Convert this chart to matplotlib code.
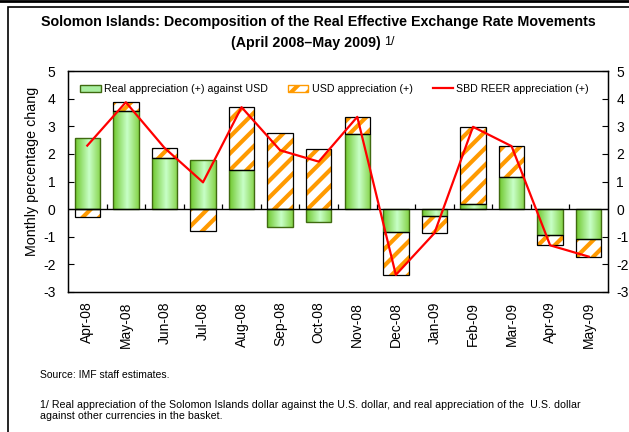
import matplotlib

matplotlib.use("Agg")
import matplotlib.pyplot as plt
import numpy as np
from matplotlib.colors import LinearSegmentedColormap
from matplotlib.lines import Line2D
from matplotlib.patches import Patch, Rectangle

MONTHS = ["Apr-08", "May-08", "Jun-08", "Jul-08", "Aug-08", "Sep-08", "Oct-08",
          "Nov-08", "Dec-08", "Jan-09", "Feb-09", "Mar-09", "Apr-09", "May-09"]
REAL_VS_USD = [2.59, 3.54, 1.84, 1.78, 1.42, -0.64, -0.45, 2.73, -0.82, -0.26, 0.19, 1.17, -0.92, -1.07]
USD_APPREC = [-0.29, 0.33, 0.38, -0.81, 2.27, 2.77, 2.16, 0.61, -1.56, -0.61, 2.79, 1.11, -0.39, -0.65]
SBD_REER = [2.30, 3.87, 2.22, 0.97, 3.69, 2.13, 1.72, 3.34, -2.38, -0.87, 2.98, 2.28, -1.31, -1.72]
Y_TICKS = [-3, -2, -1, 0, 1, 2, 3, 4, 5]

plt.rcParams["font.family"] = ["Liberation Sans", "DejaVu Sans"]
plt.rcParams["axes.unicode_minus"] = False
plt.rcParams["hatch.linewidth"] = 3.0

GREEN_EDGE = "#3f6a10"
ORANGE = "#ff9a00"
NARROW = ["Liberation Sans Narrow", "Liberation Sans"]
green_cmap = LinearSegmentedColormap.from_list(
    "grn", [(0.0, "#6fc82c"), (0.55, "#c8ffc8"), (1.0, "#86d44a")])

fig = plt.figure(figsize=(6.29, 4.32), dpi=100)
ax = fig.add_axes([0.1081, 0.3241, 0.8585, 0.5115])

x = np.arange(len(MONTHS))
real = np.array(REAL_VS_USD)
usd = np.array(USD_APPREC)
usd_bottom = np.where(np.sign(usd) == np.sign(real), real, 0.0)
width = 0.66

# green bars, gradient drawn inside each bar
green_bars = ax.bar(x, real, width=width, color="none", edgecolor=GREEN_EDGE, linewidth=1.0, zorder=3)
grad = np.linspace(0, 1, 64).reshape(1, -1)
for bar in green_bars:
    x0, y0 = bar.get_x(), bar.get_y()
    w, h = bar.get_width(), bar.get_height()
    im = ax.imshow(grad, cmap=green_cmap, aspect="auto", zorder=2,
                   extent=(x0, x0 + w, min(y0, y0 + h), max(y0, y0 + h)))
    im.set_clip_path(bar)

# hatched USD bars
ax.bar(x, usd, width=width, bottom=usd_bottom, color="white", edgecolor=ORANGE,
       hatch="//", linewidth=0, zorder=2)
ax.bar(x, usd, width=width, bottom=usd_bottom, fill=False, edgecolor="black",
       linewidth=0.9, zorder=3)

ax.plot(x, SBD_REER, color="red", linewidth=1.6, zorder=4)

ax.axhline(0, color="black", linewidth=1.0, zorder=3)
ax.vlines(x[:-1] + 0.5, 0, 0.17, color="black", linewidth=0.9, zorder=3)

ax.set_xlim(-0.5, len(MONTHS) - 0.5)
ax.set_ylim(-3, 5)
ax.set_yticks(Y_TICKS)
ax.set_yticklabels([str(t) for t in Y_TICKS])
ax.tick_params(axis="y", direction="in", length=4, labelsize=10, pad=9)
ax.set_xticks(x)
ax.set_xticklabels(MONTHS, rotation=90, fontsize=10)
ax.tick_params(axis="x", length=0, pad=7)
for s in ax.spines.values():
    s.set_linewidth(1.0)
ax.set_ylabel("Monthly percentage chang", fontsize=10.3)
ax.yaxis.set_label_coords(-0.054, 0.548)

ax_r = ax.twinx()
ax_r.set_ylim(-3, 5)
ax_r.set_yticks(Y_TICKS)
ax_r.set_yticklabels([str(t) for t in Y_TICKS])
ax_r.tick_params(axis="y", direction="in", length=4, labelsize=10, pad=6)

handles = [
    Patch(facecolor="#a8eea0", edgecolor=GREEN_EDGE, label="Real appreciation (+) against USD"),
    Patch(facecolor="white", edgecolor=ORANGE, hatch="//", label="USD appreciation (+)"),
    Line2D([0], [0], color="red", linewidth=1.6, label="SBD REER appreciation (+)"),
]
ax.legend(handles=handles, loc="upper left", bbox_to_anchor=(0.009, 0.975), ncol=3, frameon=False,
          fontsize=7.7, handlelength=1.9, handleheight=0.7, columnspacing=1.9, handletextpad=0.3,
          borderaxespad=0.3)

fig.text(0.506, 0.949, "Solomon Islands: Decomposition of the Real Effective Exchange Rate Movements",
         ha="center", va="center", fontsize=10.3, fontweight="bold")
fig.text(0.487, 0.900, "(April 2008\u2013May 2009)", ha="center", va="center", fontsize=10.3,
         fontweight="bold")
fig.text(0.611, 0.903, "1/", ha="left", va="center", fontsize=9)

fig.text(0.064, 0.132, "Source: IMF staff estimates.", fontsize=7.5, va="center", family=NARROW)
fig.text(0.064, 0.0625, "1/ Real appreciation of the Solomon Islands dollar against the U.S. dollar, "
         "and real appreciation of the  U.S. dollar", fontsize=7.7, va="center", family=NARROW)
fig.text(0.064, 0.036, "against other currencies in the basket.", fontsize=7.7, va="center",
         family=NARROW)

# outer frame
fig.add_artist(Line2D([0, 1], [0.998, 0.998], color="black", linewidth=2.0, transform=fig.transFigure))
fig.add_artist(Rectangle((8 / 629, -0.1), 1.2, (432 - 7) / 432 + 0.1, fill=False, edgecolor="black",
                         linewidth=1.2, transform=fig.transFigure))

fig.savefig("out.png", dpi=100)
